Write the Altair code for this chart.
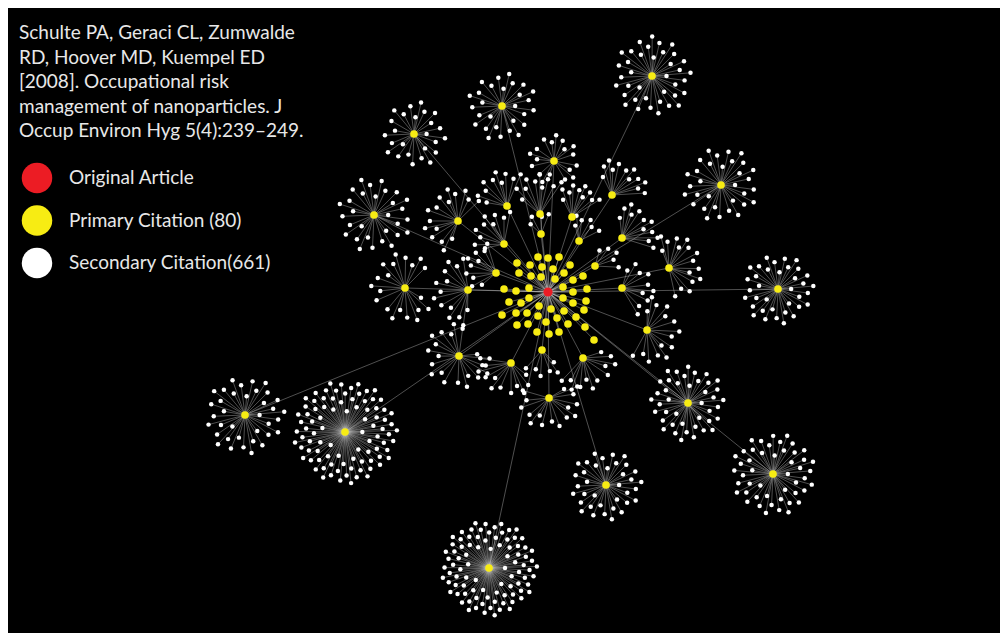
import math
import altair as alt
import pandas as pd

# ---- data (pixel-like layout coordinates) ----
origin_x, origin_y = 548, 292

# primary citations that are hubs of secondary citations
hub_x = [652, 502, 414, 554, 721, 374, 405, 778, 245, 345, 688, 773, 606, 489,
         458, 507, 540, 612, 572, 622, 504, 579, 541, 468, 496, 669, 622, 595,
         647, 459, 511, 542, 583, 549]
hub_y = [76, 106, 134, 161, 185, 215, 288, 289, 415, 432, 403, 474, 485, 568,
         221, 206, 214, 195, 217, 238, 244, 241, 234, 290, 273, 268, 288, 266,
         330, 356, 363, 350, 358, 398]
hub_children = [38, 28, 25, 18, 32, 30, 20, 36, 36, 90, 42, 48, 36, 90,
                 16, 10, 10, 12, 10, 12, 10, 6, 4, 14, 10, 16, 10, 5,
                 15, 20, 12, 6, 12, 16]
hub_radius = [40, 35, 33, 26, 38, 38, 35, 36, 40, 52, 38, 42, 36, 48,
              34, 36, 40, 36, 34, 36, 34, 26, 22, 36, 32, 34, 32, 26,
              34, 34, 34, 28, 34, 32]
hub_spread = [360, 360, 360, 330, 360, 360, 300, 360, 360, 360, 360, 360, 360, 360,
              220, 110, 90, 120, 90, 120, 120, 90, 80, 180, 120, 200, 140, 90,
              220, 300, 160, 100, 160, 240]

# primary citations without secondary citations (inner ring)
inner_x = [538, 548, 559,
           517, 530, 542, 553, 570,
           519, 531, 541, 555, 564, 573, 583,
           504, 516, 529, 563, 573, 587,
           509, 521, 529, 539, 551, 563, 573, 586,
           502, 516, 527, 538, 557, 564, 576, 584,
           517, 528, 546, 568, 585,
           537, 549, 559, 594]
inner_y = [257, 258, 257,
           263, 265, 267, 269, 265,
           273, 276, 277, 279, 273, 280, 276,
           289, 291, 288, 287, 292, 289,
           302, 303, 298, 306, 309, 298, 303, 301,
           315, 313, 313, 316, 318, 311, 317, 310,
           325, 324, 322, 324, 327,
           332, 334, 332, 340]

title_lines = ["Schulte PA, Geraci CL, Zumwalde",
               "RD, Hoover MD, Kuempel ED",
               "[2008]. Occupational risk",
               "management of nanoparticles. J",
               "Occup Environ Hyg 5(4):239\u2013249."]
legend_labels = ["Original Article", "Primary Citation (80)", "Secondary Citation(661)"]
legend_colors = ["#ec1c24", "#f7ec13", "#ffffff"]

# ---- build node / edge tables ----
golden = 137.50776
nodes = []
edges = []
nodes.append({"x": origin_x, "y": origin_y, "kind": "orig"})
for i in range(len(hub_x)):
    hx, hy = hub_x[i], hub_y[i]
    nodes.append({"x": hx, "y": hy, "kind": "prim"})
    edges.append({"x": origin_x, "y": origin_y, "x2": hx, "y2": hy})
    n = hub_children[i]
    r = hub_radius[i]
    sp = hub_spread[i]
    d = math.degrees(math.atan2(hy - origin_y, hx - origin_x))
    for k in range(n):
        t = (k + 0.5) / n
        if sp >= 360:
            ang = k * golden
            rr = r * (0.28 + 0.72 * math.sqrt(t))
        else:
            f = (k * 0.6180339887) % 1.0
            ang = d + sp * (f - 0.5)
            rr = r * (0.45 + 0.55 * math.sqrt(t))
        cx = hx + rr * math.cos(math.radians(ang))
        cy = hy + rr * math.sin(math.radians(ang))
        nodes.append({"x": cx, "y": cy, "kind": "sec"})
        edges.append({"x": hx, "y": hy, "x2": cx, "y2": cy})
for i in range(len(inner_x)):
    nodes.append({"x": inner_x[i], "y": inner_y[i], "kind": "prim"})
    edges.append({"x": origin_x, "y": origin_y, "x2": inner_x[i], "y2": inner_y[i]})

nodes_df = pd.DataFrame(nodes)
edges_df = pd.DataFrame(edges)

W, H = 992, 625
xs = alt.Scale(domain=[8, 8 + W], range=[0, W], nice=False, zero=False)
ys = alt.Scale(domain=[8, 8 + H], range=[0, H], nice=False, zero=False)

edge_layer = alt.Chart(edges_df).mark_rule(color="#dcdcdc", strokeWidth=0.6, opacity=0.6).encode(
    x=alt.X("x:Q", scale=xs, axis=None),
    y=alt.Y("y:Q", scale=ys, axis=None),
    x2="x2:Q", y2="y2:Q")

sec_layer = alt.Chart(nodes_df[nodes_df.kind == "sec"]).mark_circle(
    color="#ffffff", opacity=1, size=20).encode(
    x=alt.X("x:Q", scale=xs, axis=None), y=alt.Y("y:Q", scale=ys, axis=None))

prim_layer = alt.Chart(nodes_df[nodes_df.kind == "prim"]).mark_circle(
    color="#f7ec13", opacity=1, size=58).encode(
    x=alt.X("x:Q", scale=xs, axis=None), y=alt.Y("y:Q", scale=ys, axis=None))

orig_layer = alt.Chart(nodes_df[nodes_df.kind == "orig"]).mark_circle(
    color="#ec1c24", opacity=1, size=85).encode(
    x=alt.X("x:Q", scale=xs, axis=None), y=alt.Y("y:Q", scale=ys, axis=None))

title_df = pd.DataFrame({"line": title_lines, "i": list(range(len(title_lines)))})
title_layer = alt.Chart(title_df).mark_text(
    align="left", baseline="middle", font="Lato", fontSize=19, color="#e8e8e8").encode(
    x=alt.value(19 - 8),
    y=alt.Y("i:Q", scale=alt.Scale(domain=[0, 4], range=[33 - 8, 131 - 8]), axis=None),
    text="line:N")

leg_df = pd.DataFrame({"label": legend_labels, "color": legend_colors,
                       "i": list(range(len(legend_labels)))})
leg_y = alt.Y("i:Q", scale=alt.Scale(domain=[0, 2], range=[178 - 8, 263 - 8]), axis=None)
leg_dots = alt.Chart(leg_df).mark_circle(opacity=1, size=930).encode(
    x=alt.value(37 - 8), y=leg_y,
    color=alt.Color("color:N", scale=None, legend=None))
leg_text = alt.Chart(leg_df).mark_text(
    align="left", baseline="middle", font="Lato", fontSize=19, color="#e8e8e8").encode(
    x=alt.value(69 - 8), y=leg_y, text="label:N")

chart = alt.layer(edge_layer, sec_layer, prim_layer, orig_layer,
                  title_layer, leg_dots, leg_text).resolve_scale(y="independent").properties(
    width=W, height=H, background="#000000", padding=0
).configure_view(stroke=None, fill="#000000")

chart.save("out.html", embed_options={"renderer": "svg", "actions": False})
